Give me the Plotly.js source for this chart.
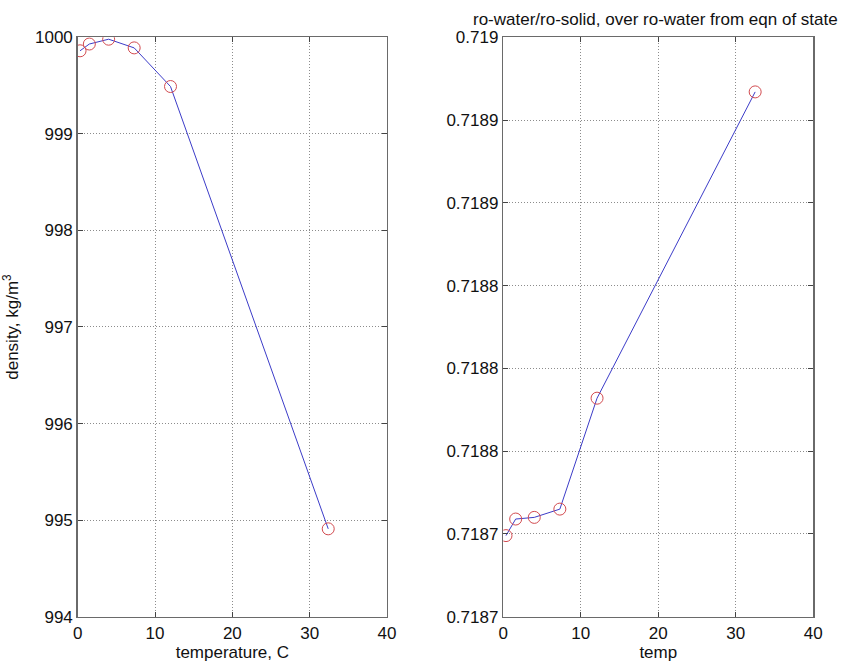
<!DOCTYPE html>
<html>
<head>
<meta charset="utf-8">
<script src="https://cdn.plot.ly/plotly-3.0.1.min.js"></script>
<style>html,body{margin:0;padding:0;background:#fff;}#chart{width:844px;height:662px;}</style>
</head>
<body>
<div id="chart"></div>
<script>
// Left panel: density vs temperature
const tempLeft = [0.3, 1.5, 4.0, 7.3, 12.0, 32.4];
const density = [999.86, 999.93, 999.98, 999.89, 999.49, 994.91];

// Right panel: ratio vs temp
const tempRight = [0.35, 1.6, 4.0, 7.3, 12.1, 32.5];
const ratio = [0.718699, 0.718709, 0.718710, 0.718715, 0.718782, 0.718967];

// Right panel y tick labels (as printed, 4 decimals)
const ratioTickVals = [0.71865, 0.7187, 0.71875, 0.7188, 0.71885, 0.7189, 0.71895, 0.719];
const ratioTickText = ['0.7187', '0.7187', '0.7188', '0.7188', '0.7188', '0.7189', '0.7189', '0.719'];

const densityTicks = [994, 995, 996, 997, 998, 999, 1000];
const xTicks = [0, 10, 20, 30, 40];

const lineColor = 'rgb(60,60,200)';
const markerColor = 'rgb(210,75,80)';
const font = {family: 'Liberation Sans, Arial, sans-serif', size: 17, color: '#111'};

const traces = [
  {x: tempLeft, y: density, type: 'scatter', mode: 'lines', line: {color: lineColor, width: 1}, xaxis: 'x', yaxis: 'y', hoverinfo: 'skip'},
  {x: tempLeft, y: density, type: 'scatter', mode: 'markers', marker: {symbol: 'circle-open', size: 12, color: markerColor, line: {width: 1}}, xaxis: 'x', yaxis: 'y'},
  {x: tempRight, y: ratio, type: 'scatter', mode: 'lines', line: {color: lineColor, width: 1}, xaxis: 'x2', yaxis: 'y2', hoverinfo: 'skip'},
  {x: tempRight, y: ratio, type: 'scatter', mode: 'markers', marker: {symbol: 'circle-open', size: 12, color: markerColor, line: {width: 1}}, xaxis: 'x2', yaxis: 'y2'}
];

const axBase = {
  showline: true, mirror: 'ticks', linecolor: '#6a6a6a', linewidth: 1.5,
  ticks: 'inside', ticklen: 5, tickcolor: '#444', tickwidth: 1,
  showgrid: true, gridcolor: '#8c8c8c', griddash: '1px,2px', gridwidth: 1,
  zeroline: false, tickfont: font
};

const layout = {
  width: 844, height: 662,
  margin: {l: 0, r: 0, t: 0, b: 0},
  paper_bgcolor: '#fff', plot_bgcolor: '#fff',
  showlegend: false,
  font: font,
  xaxis: Object.assign({}, axBase, {domain: [0.0921, 0.4585], range: [0, 40], tickvals: xTicks, ticktext: xTicks.map(String), anchor: 'y',
    title: {text: 'temperature, C', font: font, standoff: 2}}),
  yaxis: Object.assign({}, axBase, {domain: [0.0684, 0.9437], range: [994, 1000], tickvals: densityTicks, ticktext: densityTicks.map(String), anchor: 'x',
    title: {text: 'density, kg/m<sup>3</sup>', font: font, standoff: 12}}),
  xaxis2: Object.assign({}, axBase, {domain: [0.5963, 0.9636], range: [0, 40], tickvals: xTicks, ticktext: xTicks.map(String), anchor: 'y2',
    title: {text: 'temp', font: font, standoff: 2}}),
  yaxis2: Object.assign({}, axBase, {domain: [0.0684, 0.9437], range: [0.71865, 0.719], tickvals: ratioTickVals, ticktext: ratioTickText, anchor: 'x2'}),
  annotations: [
    {text: 'ro-water/ro-solid, over ro-water from eqn of state', xref: 'paper', yref: 'paper',
     x: 0.777, y: 1 - 20 / 662, xanchor: 'center', yanchor: 'middle', showarrow: false, font: font}
  ]
};

Plotly.newPlot('chart', traces, layout, {displayModeBar: false, staticPlot: true});
</script>
</body>
</html>
